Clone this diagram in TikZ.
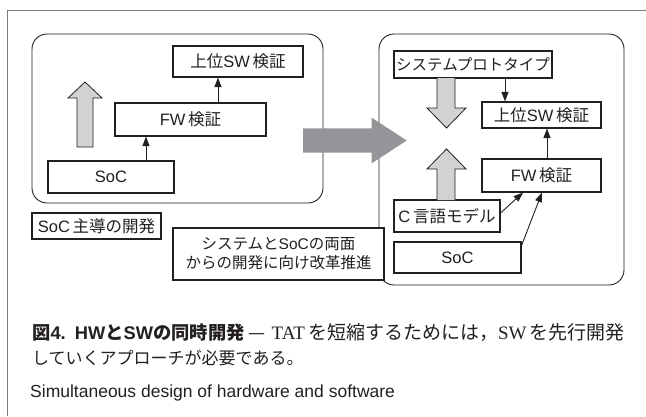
\documentclass[tikz,border=0pt]{standalone}
\usepackage{fontspec}
\setmainfont{Noto Sans CJK JP}
\newfontfamily\latinsans{Liberation Sans}
\newfontfamily\latinserif{Liberation Serif}
\newcommand\lat[1]{{\latinsans #1}}
\newcommand\latser[1]{{\latinserif #1}}
\usetikzlibrary{arrows.meta}

\definecolor{ink}{HTML}{231F20}
\definecolor{framegray}{HTML}{7A7A7A}
\definecolor{blockfill}{HTML}{D1D2D4}
\definecolor{bigfill}{HTML}{939598}

\begin{document}
\begin{tikzpicture}[x=1pt,y=-1pt,
  box/.style={draw=ink, line width=1.1pt, fill=white, inner sep=0pt,
    text=ink, font=\fontsize{16.5}{18}\selectfont},
  group/.style={draw=ink, line width=0.9pt, rounded corners=15pt, inner sep=0pt},
  conn/.style={draw=ink, line width=0.9pt, -{Triangle[length=9.5pt,width=7pt]}},
  blockarrow/.style={draw=ink, line width=0.8pt, fill=blockfill, line join=miter},
  caption/.style={anchor=base west, inner sep=0pt, text=ink}
]
\useasboundingbox (0,0) rectangle (646,416);

% page frame (top and left rules)
\draw[framegray, line width=1pt] (7,416) -- (7,10) -- (646,10);

% ---- left group: SoC-driven flow ----
\node[group, minimum width=291, minimum height=169] (leftgrp) at (177.5,118.5) {};
\node[box, minimum width=130, minimum height=31] (topL) at (238,61.5) {上位\lat{SW}\,検証};
\node[box, minimum width=151, minimum height=33] (fwL) at (190.5,119.5) {\lat{FW}\,検証};
\node[box, minimum width=126, minimum height=32] (socL) at (111,177) {\lat{SoC}};
\draw[conn] ([xshift=35pt]socL.north) -- ([xshift=35pt]socL.north |- fwL.south);
\draw[conn] ([xshift=27.5pt]fwL.north) -- ([xshift=27.5pt]fwL.north |- topL.south);
\filldraw[blockarrow] (77,147) -- (77,98) -- (68,98) -- (85,82) -- (102,98)
  -- (93,98) -- (93,147) -- cycle;

\node[box, minimum width=129, minimum height=26] (soclead) at (96.5,226) {\lat{SoC}\,主導の開発};

% ---- right group: system + SoC flow ----
\node[group, minimum width=245, minimum height=251] (rightgrp) at (501.5,159.5) {};
\node[box, minimum width=158, minimum height=27,
  font=\fontsize{15.5}{18}\selectfont] (sysR) at (473,64.5) {システムプロトタイプ};
\node[box, minimum width=119, minimum height=26] (topR) at (541.5,115) {上位\lat{SW}\,検証};
\node[box, minimum width=119, minimum height=33] (fwR) at (541.5,175.5) {\lat{FW}\,検証};
\node[box, minimum width=106, minimum height=32] (cR) at (447,216) {\lat{C}\,言語モデル};
\node[box, minimum width=127, minimum height=31] (socR) at (457.5,257.5) {\lat{SoC}};

\draw[conn] ([xshift=32pt]sysR.south) -- ([xshift=32pt]sysR.south |- topR.north);
\draw[conn] ([xshift=5.5pt]fwR.north) -- ([xshift=5.5pt]fwR.north |- topR.south);
\draw[conn] ([yshift=3pt]cR.east) -- ([xshift=-18.5pt]fwR.south);
\draw[conn] ([yshift=12pt]socR.east) -- ([xshift=0.5pt]fwR.south);

\filldraw[blockarrow] (437,78) -- (437,108) -- (427,108) -- (446.5,128) -- (466,108)
  -- (455,108) -- (455,78);
\filldraw[blockarrow] (437,200) -- (437,169) -- (427,169) -- (446.5,149) -- (466,169)
  -- (455,169) -- (455,200);

% ---- transition arrow between the groups ----
\fill[bigfill] (303,128.3) -- (371.7,128.3) -- (371.7,117.7) -- (406.7,140.5)
  -- (371.7,163.3) -- (371.7,152.7) -- (303,152.7) -- cycle;

% ---- reform note ----
\node[box, minimum width=211, minimum height=52, align=center,
  font=\fontsize{15.5}{19}\selectfont] (reform) at (278.5,254)
  {システムと\lat{SoC}の両面\\からの開発に向け改革推進};

% ---- caption ----
\node[caption] (cap1) at (32,339) {\fontsize{18.3}{20}\selectfont
  \textbf{図\lat{4.}\enspace\lat{HW}と\lat{SW}の同時開発}\hspace{4pt}%
  \fontsize{19}{20}\selectfont —\hspace{6pt}\latser{TAT}\,を短縮するためには，\latser{SW}\,を先行開発};
\node[caption] (cap2) at (32,364) {\fontsize{17}{20}\selectfont していくアプローチが必要である。};
\node[caption] (cap3) at (30,397) {\latinsans\fontsize{17.5}{20}\selectfont Simultaneous design of hardware and software};
\end{tikzpicture}
\end{document}
